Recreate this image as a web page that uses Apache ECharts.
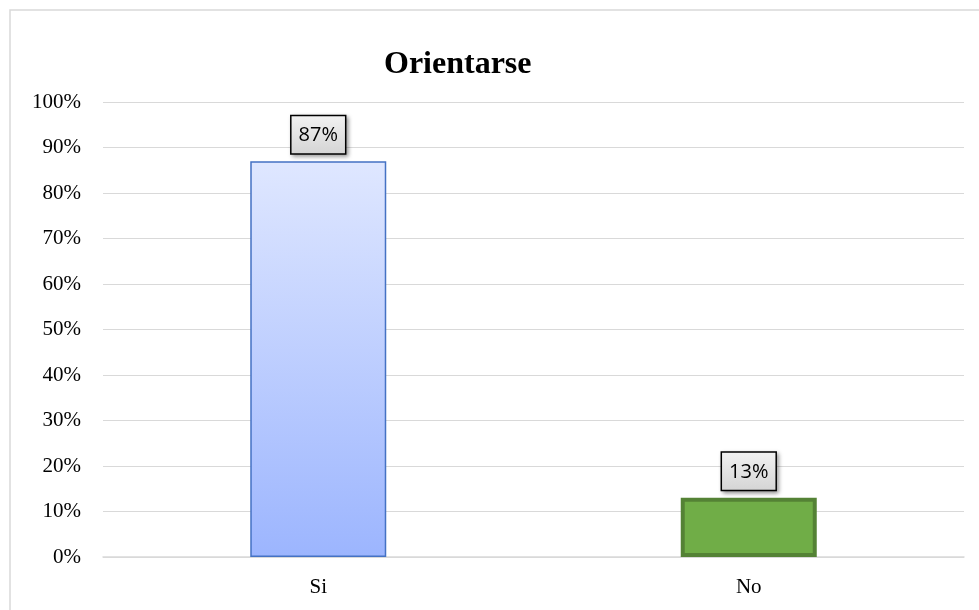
<!DOCTYPE html>
<html>
<head>
<meta charset="utf-8">
<script src="https://cdn.jsdelivr.net/npm/echarts@6/dist/echarts.min.js"></script>
<style>html,body{margin:0;padding:0;background:#fff}#c{width:979px;height:610px}</style>
</head>
<body>
<div id="c"></div>
<script>
const categories = ['Si', 'No'];
const values = [87, 13];
const yTicks = [0, 10, 20, 30, 40, 50, 60, 70, 80, 90, 100];

const chart = echarts.init(document.getElementById('c'));
const labelStyle = {
  show: true,
  position: 'top',
  distance: 8,
  formatter: p => p.value + '%',
  fontFamily: 'Open Sans, Liberation Sans, sans-serif',
  fontSize: 20,
  lineHeight: 25,
  color: '#000',
  backgroundColor: new echarts.graphic.LinearGradient(0, 0, 0, 1, [
    {offset: 0, color: '#f2f2f2'}, {offset: 1, color: '#d4d4d4'}
  ]),
  borderColor: '#000',
  borderWidth: 1.5,
  padding: [7, 7, 5, 7],
  shadowColor: 'rgba(0,0,0,0.35)',
  shadowBlur: 4,
  shadowOffsetX: 2,
  shadowOffsetY: 2
};
chart.setOption({
  animation: false,
  title: {
    text: 'Orientarse',
    left: 379,
    top: 44,
    textStyle: {fontFamily: 'Liberation Serif, serif', fontSize: 32, fontWeight: 'bold', color: '#000'}
  },
  graphic: [{
    type: 'rect', shape: {x: 10, y: 10, width: 1000, height: 700},
    style: {fill: 'none', stroke: '#d9d9d9', lineWidth: 1.5}, silent: true
  }],
  grid: {left: 103, right: 15, top: 102, bottom: 53},
  xAxis: {
    type: 'category',
    data: categories,
    axisLine: {lineStyle: {color: '#d9d9d9', width: 1.5}},
    axisTick: {show: false},
    axisLabel: {fontFamily: 'Liberation Serif, serif', fontSize: 21, color: '#000', margin: 20}
  },
  yAxis: {
    type: 'value',
    min: 0, max: 100, interval: 10,
    axisLabel: {
      fontFamily: 'Liberation Serif, serif', fontSize: 21, color: '#000', margin: 22,
      formatter: v => yTicks.includes(v) ? v + '%' : ''
    },
    splitLine: {lineStyle: {color: '#d9d9d9', width: 1.2}},
    axisLine: {show: false},
    axisTick: {show: false}
  },
  series: [{
    type: 'bar',
    barWidth: 136,
    data: [
      {value: values[0], itemStyle: {
        color: new echarts.graphic.LinearGradient(0, 0, 0, 1, [
          {offset: 0, color: '#dfe7ff'}, {offset: 1, color: '#9cb5fe'}
        ]),
        borderColor: '#4472c4', borderWidth: 1.5
      }},
      {value: values[1], itemStyle: {
        color: '#70ad47', borderColor: '#548235', borderWidth: 4
      }}
    ],
    label: labelStyle
  }]
});
</script>
</body>
</html>
